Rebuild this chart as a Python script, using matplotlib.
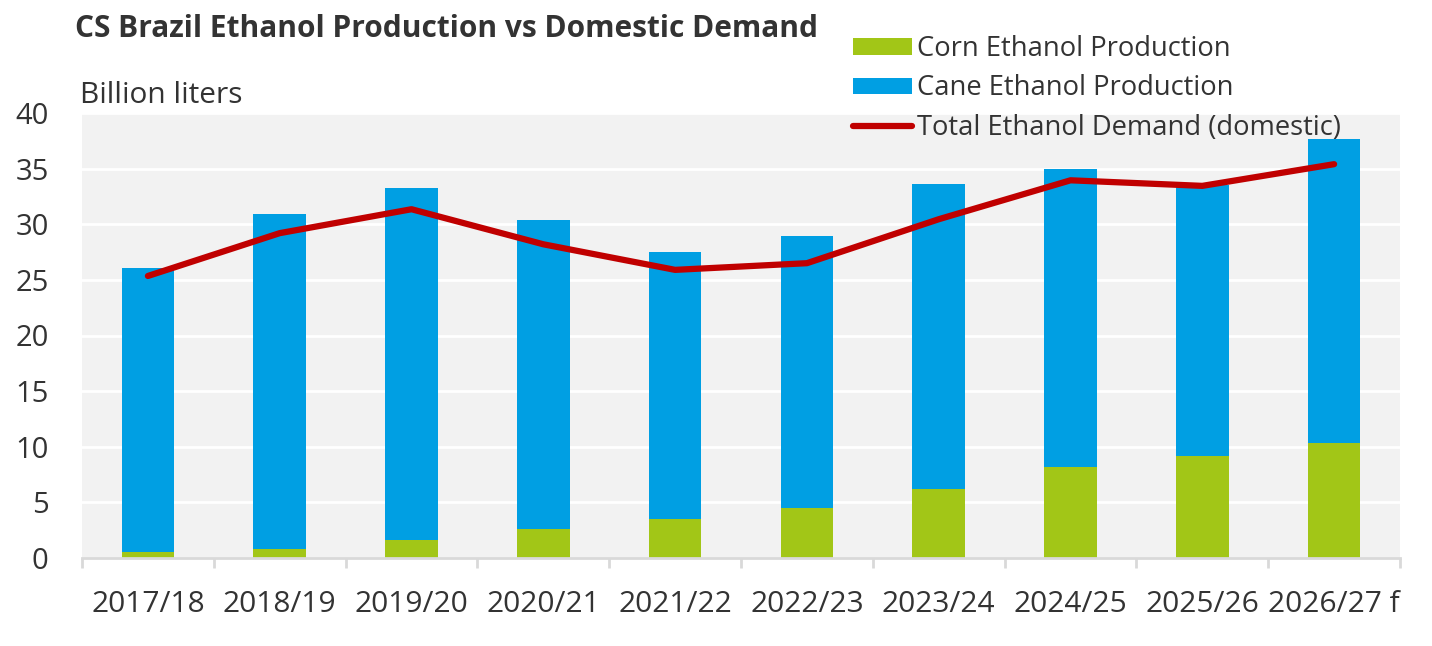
import numpy as np
import matplotlib
matplotlib.use("Agg")
import matplotlib.pyplot as plt
from matplotlib.patches import Patch
from matplotlib.lines import Line2D

seasons = ["2017/18", "2018/19", "2019/20", "2020/21", "2021/22",
           "2022/23", "2023/24", "2024/25", "2025/26", "2026/27 f"]
# billion liters
corn = [0.5, 0.8, 1.6, 2.6, 3.5, 4.45, 6.2, 8.2, 9.2, 10.3]
total_prod = [26.05, 30.9, 33.25, 30.4, 27.5, 28.95, 33.6, 34.95, 33.5, 37.65]
cane = [t - c for t, c in zip(total_prod, corn)]
demand = [25.35, 29.2, 31.35, 28.2, 25.9, 26.5, 30.45, 33.95, 33.45, 35.4]

green = "#a2c617"
blue = "#009fe3"
red = "#c00000"
txt = "#333333"

plt.rcParams['font.family'] = ['Open Sans', 'DejaVu Sans']

fig = plt.figure(figsize=(14.32, 6.46), dpi=100)
ax = fig.add_axes([82/1432, 1 - 558/646, (1400-82)/1432, (558-113)/646])
ax.set_facecolor("#f2f2f2")

x = np.arange(len(seasons))
ax.bar(x, corn, width=0.4, color=green, zorder=2)
ax.bar(x, cane, width=0.4, bottom=corn, color=blue, zorder=2)
ax.plot(x, demand, color=red, lw=4.5, solid_capstyle='round', solid_joinstyle='round', zorder=3)

ax.set_xlim(-0.5, len(seasons) - 0.5)
ax.set_ylim(0, 40)
ax.set_yticks(np.arange(0, 41, 5))
ax.yaxis.grid(True, color="white", lw=2, zorder=1)
ax.set_axisbelow(True)

for s in ["left", "right", "top"]:
    ax.spines[s].set_visible(False)
ax.spines["bottom"].set_color("#d9d9d9")
ax.spines["bottom"].set_linewidth(2)
ax.spines["bottom"].set_zorder(4)

ax.set_xticks(x)
ax.set_xticklabels(seasons)
ax.set_xticks(np.arange(-0.5, len(seasons)), minor=True)
ax.tick_params(axis="x", which="major", length=0, pad=23, labelsize=21.5, labelcolor=txt)
ax.tick_params(axis="x", which="minor", length=7, width=2, color="#d9d9d9")
ax.tick_params(axis="y", length=0, pad=24, labelsize=21, labelcolor=txt)

fig.text(75/1432, 1 - 29/646, "CS Brazil Ethanol Production vs Domestic Demand",
         fontsize=21.5, fontweight="bold", color=txt, va="center", ha="left")
fig.text(80/1432, 1 - 103/646, "Billion liters", fontsize=21.5, color=txt,
         va="baseline", ha="left")

handles = [Patch(facecolor=green, label="Corn Ethanol Production"),
           Patch(facecolor=blue, label="Cane Ethanol Production"),
           Line2D([0], [0], color=red, lw=4.5, solid_capstyle='round',
                  label="Total Ethanol Demand (domestic)")]
leg = fig.legend(handles=handles, loc="upper left",
                 bbox_to_anchor=(853/1432, 1 - 35/646), frameon=False,
                 fontsize=19.7, handlelength=2.15, handleheight=0.55,
                 handletextpad=0.2, labelspacing=0.42, borderaxespad=0,
                 borderpad=0)
for t in leg.get_texts():
    t.set_color(txt)

fig.savefig("out.png", dpi=100)
